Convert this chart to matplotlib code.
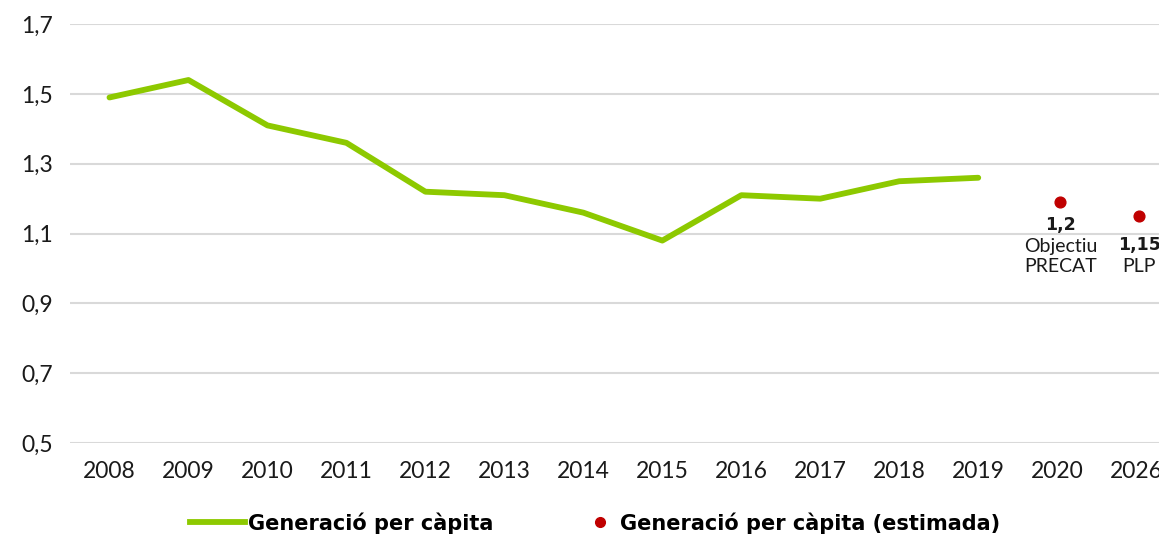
import matplotlib.pyplot as plt
from matplotlib.lines import Line2D

years = ["2008", "2009", "2010", "2011", "2012", "2013", "2014", "2015",
         "2016", "2017", "2018", "2019", "2020", "2026"]
per_capita = [1.49, 1.54, 1.41, 1.36, 1.22, 1.21, 1.16, 1.08,
              1.21, 1.20, 1.25, 1.26]
est_years = ["2020", "2026"]
est_values = [1.19, 1.15]
est_labels = ["1,2", "1,15"]
est_notes = ["Objectiu\nPRECAT", "PLP"]
yticks = [0.5, 0.7, 0.9, 1.1, 1.3, 1.5, 1.7]

green = "#8DC900"
red = "#C00000"
dark = "#1A1A1A"
plt.rcParams['font.family'] = ['Lato', 'DejaVu Sans']
bold = {"family": "DejaVu Sans", "weight": "bold"}

fig = plt.figure(figsize=(11.59, 5.37), dpi=100)
ax = fig.add_axes([0.0604, 0.175, 0.954, 0.78])

x = list(range(len(years)))
ax.plot(x[:len(per_capita)], per_capita, color=green, lw=4.2,
        solid_capstyle="round", zorder=3)
ex = [years.index(y) for y in est_years]
ax.scatter([i + 0.04 for i in ex], est_values, s=60, color=red, zorder=4)

# annotations under the estimated points (offsets in points)
num_off = [-10, -14]
note_off = [-26, -30]
for i in range(len(ex)):
    ax.annotate(est_labels[i], (ex[i] + 0.04, est_values[i]),
                xytext=(0, num_off[i]), textcoords="offset points",
                ha="center", va="top", fontsize=12.5, color=dark, **bold)
    ax.annotate(est_notes[i], (ex[i] + 0.04, est_values[i]),
                xytext=(0, note_off[i]), textcoords="offset points",
                ha="center", va="top", fontsize=14, color=dark,
                linespacing=1.2)

ax.set_xlim(-0.5, len(years) - 0.5)
ax.set_ylim(0.5, 1.7)
ax.set_xticks(x)
ax.set_xticklabels(years)
ax.set_yticks(yticks)
ax.set_yticklabels([f"{v:.1f}".replace(".", ",") for v in yticks])
ax.tick_params(axis="both", length=0, labelsize=16.5, colors=dark)
ax.tick_params(axis="x", pad=13)
ax.tick_params(axis="y", pad=12)
ax.grid(axis="y", color="#D9D9D9", lw=1.5)
ax.set_axisbelow(True)
for s in ax.spines.values():
    s.set_visible(False)

leg1 = fig.legend([Line2D([], [], color=green, lw=4.2)],
                  ["Generació per càpita"],
                  loc="center left", bbox_to_anchor=(190 / 1159, 0.026),
                  frameon=False, handlelength=2.65, handletextpad=0.15,
                  borderpad=0, borderaxespad=0,
                  prop={**bold, "size": 15})
leg2 = fig.legend([Line2D([], [], color=red, marker="o", ls="none",
                          markersize=7)],
                  ["Generació per càpita (estimada)"],
                  loc="center left", bbox_to_anchor=(590 / 1159, 0.026),
                  frameon=False, handlelength=1.0, handletextpad=0.45,
                  borderpad=0, borderaxespad=0,
                  prop={**bold, "size": 15})

fig.savefig("out.png", dpi=100)
